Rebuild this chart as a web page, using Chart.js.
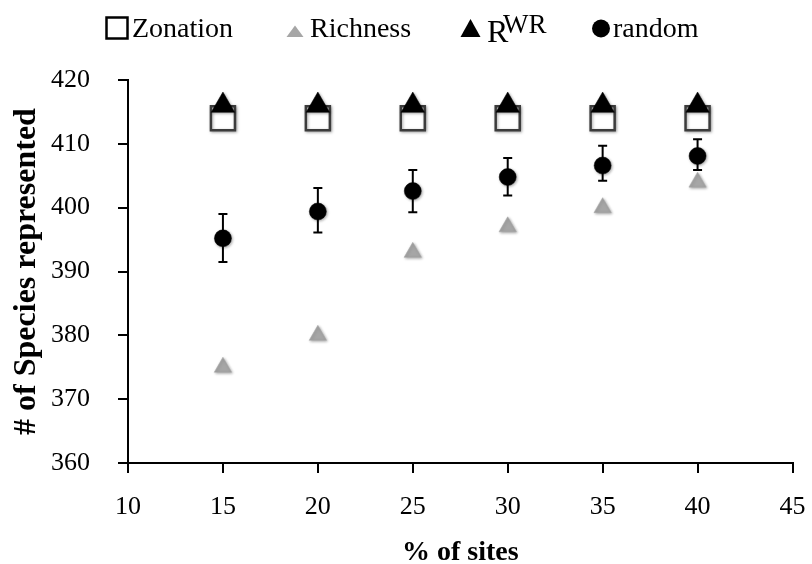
<!DOCTYPE html>
<html><head><meta charset="utf-8">
<script src="https://cdn.jsdelivr.net/npm/chart.js@4.4.1/dist/chart.umd.min.js"></script>
<style>html,body{margin:0;padding:0;background:#fff}#wrap{width:812px;height:564px;position:relative}</style>
</head><body><div id="wrap"><canvas id="c" width="812" height="564"></canvas></div>
<script>
// ---- data ----
const seriesNames = ['Zonation', 'Richness', 'RWR', 'random'];
const sitePercent = [15, 20, 25, 30, 35, 40];
const zonation = [414, 414, 414, 414, 414, 414];
const richness = [375, 380, 393, 397, 400, 404];
const rwr = [416, 416, 416, 416, 416, 416];
const randomMean = [395.2, 399.4, 402.6, 404.8, 406.6, 408.1];
const randomLow = [391.5, 396.1, 399.3, 401.9, 404.2, 405.9];
const randomHigh = [399.0, 403.1, 405.9, 407.8, 409.7, 410.7];
const xTicks = [10, 15, 20, 25, 30, 35, 40, 45];
const yTicks = [360, 370, 380, 390, 400, 410, 420];
const xTitle = '% of sites';
const yTitle = '# of Species represented';

const pts = (vals) => sitePercent.map((x, i) => ({x: x, y: vals[i]}));
const SERIF = '"Liberation Serif", "Times New Roman", serif';

const errorBars = {
  id: 'errorBars',
  beforeDatasetsDraw(chart) {
    const {ctx, scales: {x, y}} = chart;
    ctx.save();
    ctx.strokeStyle = '#000';
    ctx.lineWidth = 2;
    sitePercent.forEach((p, i) => {
      const px = x.getPixelForValue(p);
      const yl = y.getPixelForValue(randomLow[i]);
      const yh = y.getPixelForValue(randomHigh[i]);
      ctx.beginPath();
      ctx.moveTo(px, yl); ctx.lineTo(px, yh);
      ctx.moveTo(px - 4.5, yl); ctx.lineTo(px + 4.5, yl);
      ctx.moveTo(px - 4.5, yh); ctx.lineTo(px + 4.5, yh);
      ctx.stroke();
    });
    ctx.restore();
    ctx.shadowColor = 'rgba(0,0,0,0.35)';
    ctx.shadowBlur = 3;
    ctx.shadowOffsetX = 1;
    ctx.shadowOffsetY = 1;
  },
  afterDatasetsDraw(chart) {
    const ctx = chart.ctx;
    ctx.shadowColor = 'rgba(0,0,0,0)';
    ctx.shadowBlur = 0;
    ctx.shadowOffsetX = 0;
    ctx.shadowOffsetY = 0;
  }
};

const customLegend = {
  id: 'customLegend',
  afterDraw(chart) {
    const ctx = chart.ctx;
    ctx.save();
    ctx.fillStyle = '#000';
    ctx.strokeStyle = '#000';
    ctx.textBaseline = 'alphabetic';
    ctx.textAlign = 'left';
    ctx.font = '28px ' + SERIF;
    // Zonation
    ctx.lineWidth = 2.5;
    ctx.strokeRect(106.5, 17.5, 21, 21);
    ctx.fillText(seriesNames[0], 132, 36.5);
    // Richness
    ctx.fillStyle = '#a6a6a6';
    ctx.beginPath();
    ctx.moveTo(295, 25.5); ctx.lineTo(303.5, 37); ctx.lineTo(286.5, 37); ctx.closePath();
    ctx.fill();
    ctx.fillStyle = '#000';
    ctx.fillText(seriesNames[1], 310, 36.5);
    // RWR
    ctx.beginPath();
    ctx.moveTo(470.5, 19); ctx.lineTo(480.5, 37); ctx.lineTo(460.5, 37); ctx.closePath();
    ctx.fill();
    ctx.font = '32px ' + SERIF;
    ctx.fillText(seriesNames[2].charAt(0), 487, 41.5);
    ctx.font = '27px ' + SERIF;
    ctx.fillText(seriesNames[2].slice(1), 503, 33);
    // random
    ctx.beginPath();
    ctx.arc(601, 28.5, 9, 0, Math.PI * 2);
    ctx.fill();
    ctx.font = '28px ' + SERIF;
    ctx.fillText(seriesNames[3], 613, 36.5);
    ctx.restore();
  }
};

new Chart(document.getElementById('c'), {
  type: 'scatter',
  data: {
    datasets: [
      {label: seriesNames[0], data: pts(zonation), order: 1, pointStyle: 'rect', pointRadius: 17,
       backgroundColor: '#ffffff', borderColor: '#3c3c3c', borderWidth: 2.5},
      {label: seriesNames[1], data: pts(richness), order: 3, pointStyle: 'triangle', pointRadius: 10,
       backgroundColor: '#a6a6a6', borderColor: '#a6a6a6', borderWidth: 0.5},
      {label: seriesNames[2], data: pts(rwr), order: 0, pointStyle: 'triangle', pointRadius: 13.5,
       backgroundColor: '#000000', borderColor: '#000000', borderWidth: 0.5},
      {label: seriesNames[3], data: pts(randomMean), order: 2, pointStyle: 'circle', pointRadius: 8.5,
       backgroundColor: '#000000', borderColor: '#000000', borderWidth: 0.5}
    ]
  },
  options: {
    responsive: false,
    devicePixelRatio: 1,
    animation: false,
    events: [],
    layout: {padding: {top: 80, right: 12, bottom: 0, left: 0}},
    plugins: {legend: {display: false}, tooltip: {enabled: false}},
    scales: {
      x: {
        type: 'linear', min: xTicks[0], max: xTicks[xTicks.length - 1],
        afterBuildTicks: s => { s.ticks = xTicks.map(v => ({value: v})); },
        afterFit: s => { s.height = 101; s.paddingLeft = 0; s.paddingRight = 0; },
        grid: {display: true, drawOnChartArea: false, drawTicks: true, tickLength: 10, color: '#000', lineWidth: 2},
        border: {display: true, color: '#000', width: 2},
        ticks: {color: '#000', font: {family: SERIF, size: 26}, padding: 19, maxRotation: 0, autoSkip: false},
        title: {display: true, text: xTitle, color: '#000', font: {family: SERIF, size: 28, weight: 'bold', lineHeight: 0.8}, padding: {top: 0, bottom: 0}}
      },
      y: {
        type: 'linear', min: yTicks[0], max: yTicks[yTicks.length - 1],
        afterBuildTicks: s => { s.ticks = yTicks.map(v => ({value: v})); },
        afterFit: s => { s.width = 128; },
        grid: {display: true, drawOnChartArea: false, drawTicks: true, tickLength: 10, color: '#000', lineWidth: 2},
        border: {display: true, color: '#000', width: 2},
        ticks: {color: '#000', font: {family: SERIF, size: 26}, padding: 28, autoSkip: false},
        title: {display: true, text: yTitle, color: '#000', font: {family: SERIF, size: 32, weight: 'bold', lineHeight: 1.2}, padding: {top: 8, bottom: 0}}
      }
    }
  },
  plugins: [errorBars, customLegend]
});
</script>
</body></html>
